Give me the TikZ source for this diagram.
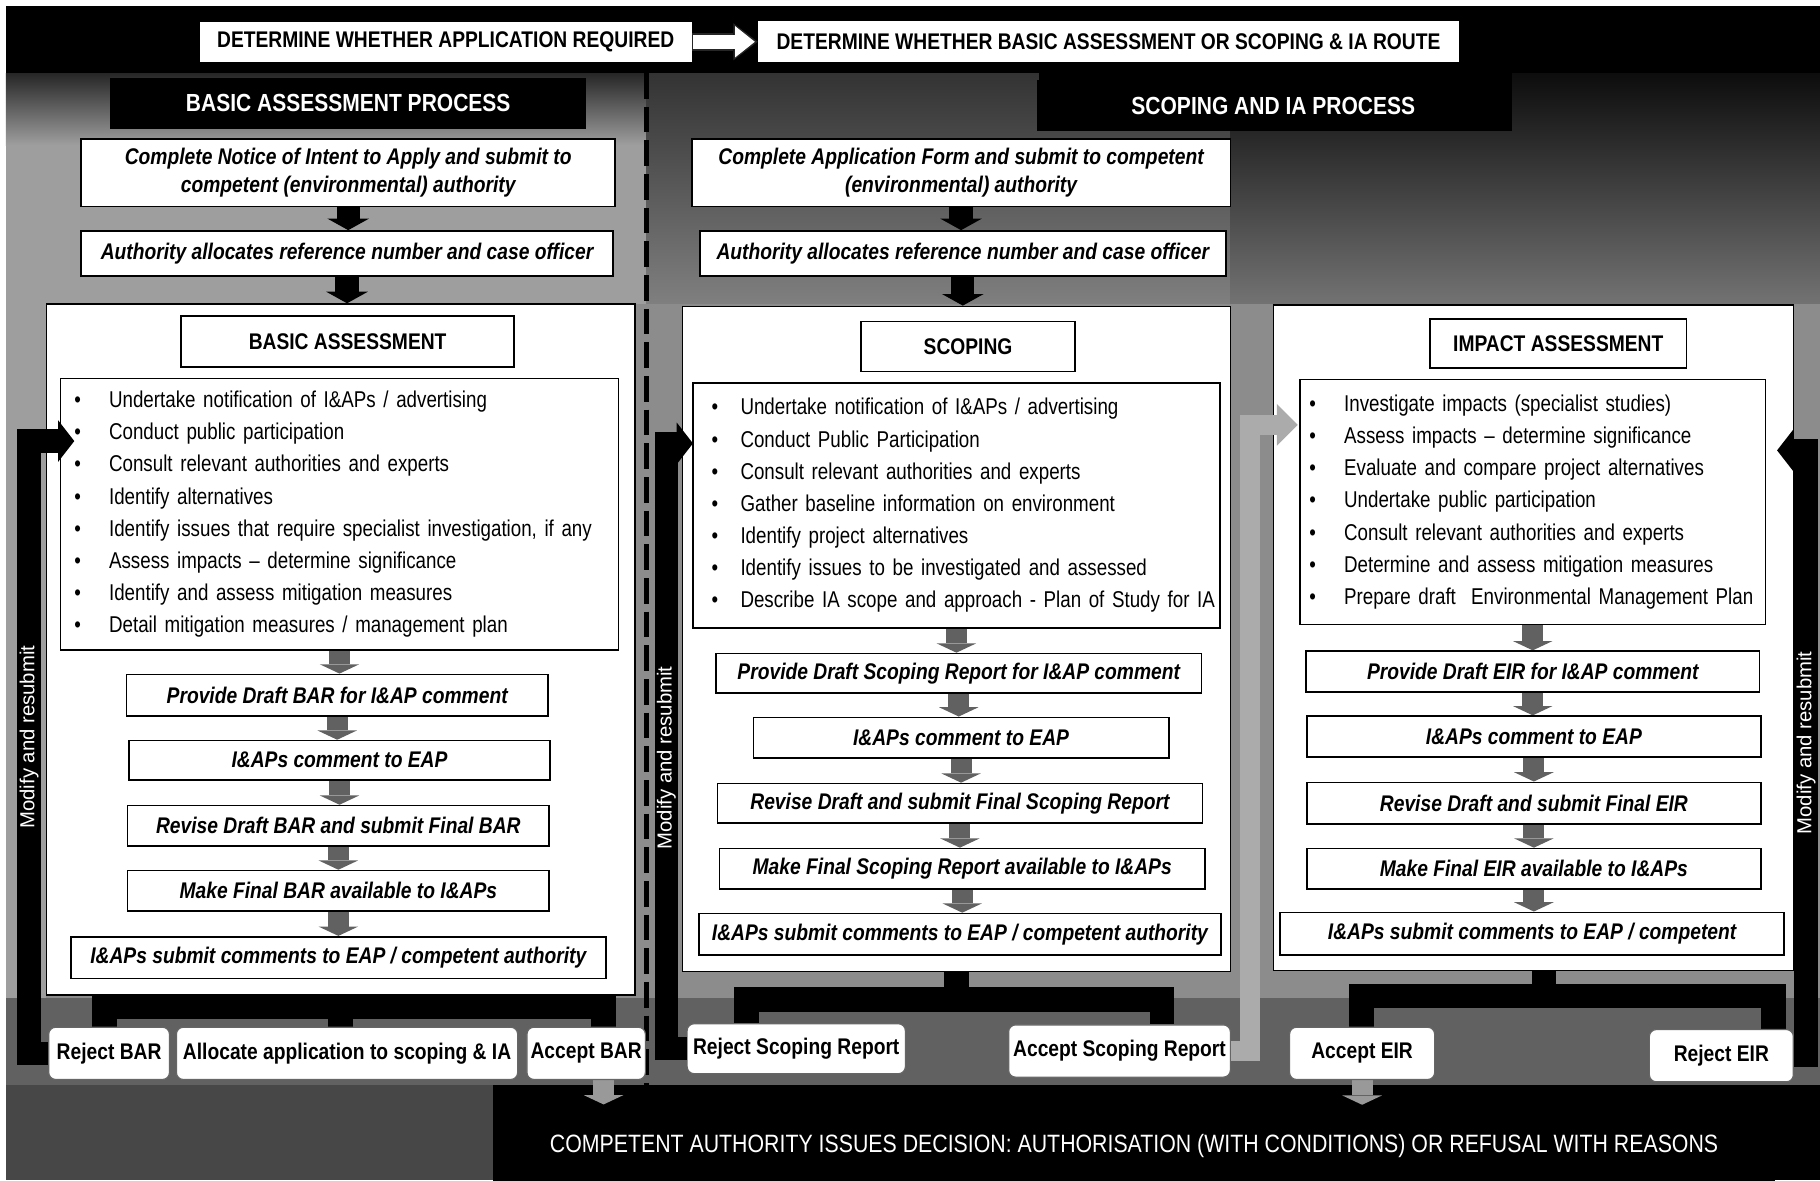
\documentclass[tikz,border=0pt]{standalone}
\usepackage{fontspec}
\setmainfont{Liberation Sans}
\newfontfamily\nar{Liberation Sans}[FakeStretch=0.85]
\newfontfamily\narb{Liberation Sans}[FakeStretch=0.82]
\usetikzlibrary{arrows.meta}
\pgfdeclarelayer{bg}\pgfdeclarelayer{cont}\pgfdeclarelayer{mid}
\pgfsetlayers{bg,cont,mid,main}
\newcommand{\bxfont}{\nar\bfseries\itshape\fontsize{19.5}{24}\selectfont}
\newcommand{\blfont}{\narb\fontsize{19.7}{27.7}\selectfont}
\newcommand{\hdfont}{\nar\bfseries\fontsize{19.5}{22}\selectfont}
\newcommand{\prfont}{\nar\bfseries\fontsize{21.3}{24}\selectfont}
\newcommand{\ttlfont}{\nar\bfseries\fontsize{19.5}{23}\selectfont}
\newcommand{\dcfont}{\nar\bfseries\fontsize{19.5}{23}\selectfont}
\newcommand{\modfont}{\fontsize{17.5}{20}\selectfont}
\newcommand{\decfont}{\nar\fontsize{21.6}{24}\selectfont}
\newcommand{\bi}[2]{\mbox{\makebox[#1pt][l]{\textbullet}#2}}
\begin{document}
\begin{tikzpicture}[x=1pt,y=-1pt,line join=miter,
  wbox/.style={draw=black,line width=1.4pt,fill=white,inner sep=0pt,align=center,font=\bxfont,text=black},
  hbox/.style={fill=white,inner sep=0pt,font=\hdfont},
  ttl/.style={draw=black,line width=1.4pt,fill=white,inner sep=0pt,font=\ttlfont},
  contbox/.style={draw=black,line width=1.4pt,fill=white,inner sep=0pt},
  blist/.style={draw=black,line width=1.4pt,fill=white,align=left,font=\blfont,inner ysep=0pt},
  dbox/.style={draw=black!60,line width=1pt,fill=white,rounded corners=6pt,inner sep=0pt,font=\dcfont},
  prhead/.style={fill=black,text=white,inner sep=0pt,font=\prfont},
  modlabel/.style={rotate=90,text=white,font=\modfont,inner sep=0pt},
  blk/.style={line width=20pt,black,-{Triangle[width=36pt,length=10pt,line width=0pt]}},
  gar/.style={line width=18pt,black!62,-{Triangle[width=34pt,length=8pt,line width=0pt]}},
  gar2/.style={line width=18pt,black!40,-{Triangle[width=34pt,length=8pt,line width=0pt]}},
  fork/.style={line width=21pt,black},
  modarr/.style={line width=20pt,black,-{Triangle[width=36pt,length=14pt,line width=0pt]}},
  greyarr/.style={line width=17pt,black!33,-{Triangle[width=36pt,length=18pt,line width=0pt]}}
]
\useasboundingbox (0,0) rectangle (1568,1017);
% ---------------- background ----------------
\begin{pgfonlayer}{bg}
\fill[white] (0,0) rectangle (1568,1017);
\fill[black!48] (5,5) rectangle (1568,1017);
\fill[black] (5,5) rectangle (1568,63);
\shade[top color=black!85,bottom color=black!38] (5,63) rectangle (557,125);
\fill[black!38] (5,125) rectangle (557,262);
\shade[top color=black!80,bottom color=black!50] (557,63) rectangle (1060,262);
\shade[top color=black!95,bottom color=black!55] (1060,63) rectangle (1568,262);
\fill[black!45] (5,262) rectangle (1568,860);
\fill[black!38] (5,262) rectangle (40,935);
\fill[black!62] (5,860) rectangle (1568,935);
\fill[black!72] (5,935) rectangle (425,1017);
\fill[black] (425,935) rectangle (1568,1017);
\fill[black] (895,63) rectangle (1303,113);
\draw[line width=3.5pt,dash pattern=on 22pt off 7pt] (557,63) -- (557,935);
\end{pgfonlayer}
% ---------------- top ----------------
\node[hbox,minimum width=424pt,minimum height=34pt] (det1) at (384,36) {DETERMINE WHETHER APPLICATION REQUIRED};
\node[hbox,minimum width=604pt,minimum height=35pt] (det2) at (955,36) {DETERMINE WHETHER BASIC ASSESSMENT OR SCOPING \& IA ROUTE};
\node[prhead,minimum width=410pt,minimum height=44pt] (bap) at (300,89) {BASIC ASSESSMENT PROCESS};
\node[prhead,minimum width=408pt,minimum height=44pt] (sip) at (1097,91) {SCOPING AND IA PROCESS};
% ---------------- containers ----------------
\begin{pgfonlayer}{cont}
\node[contbox,minimum width=507pt,minimum height=595pt] (contBA) at (293.5,559.5) {};
\node[contbox,minimum width=472pt,minimum height=573pt] (contSC) at (824,550.5) {};
\node[contbox,minimum width=448pt,minimum height=573pt] (contIA) at (1321,549.5) {};
\end{pgfonlayer}
% ---------------- basic assessment column ----------------
\node[wbox,minimum width=460pt,minimum height=58pt] (n1BA) at (300,149) {Complete Notice of Intent to Apply and submit to\\competent (environmental) authority};
\node[wbox,minimum width=458pt,minimum height=39pt] (n2BA) at (299,218.5) {Authority allocates reference number and case officer};
\node[ttl,minimum width=287pt,minimum height=44pt] (titleBA) at (299.5,294) {BASIC ASSESSMENT};
\node[blist,minimum width=481pt,minimum height=234pt,text width=457pt,inner xsep=12pt] (bullBA) at (292.5,443) {%
\bi{30}{Undertake notification of I\&APs / advertising}\\
\bi{30}{Conduct public participation}\\
\bi{30}{Consult relevant authorities and experts}\\
\bi{30}{Identify alternatives}\\
\bi{30}{Identify issues that require specialist investigation, if any}\\
\bi{30}{Assess impacts – determine significance}\\
\bi{30}{Identify and assess mitigation measures}\\
\bi{30}{Detail mitigation measures / management plan}};
\node[wbox,minimum width=363pt,minimum height=36pt] (pBA1) at (290.5,599) {Provide Draft BAR for I\&AP comment};
\node[wbox,minimum width=363pt,minimum height=34pt] (pBA2) at (292.5,655) {I\&APs comment to EAP};
\node[wbox,minimum width=363pt,minimum height=35pt] (pBA3) at (291.5,711.5) {Revise Draft BAR and submit Final BAR};
\node[wbox,minimum width=363pt,minimum height=35pt] (pBA4) at (291.5,767.5) {Make Final BAR available to I\&APs};
\node[wbox,minimum width=461pt,minimum height=36pt] (pBA5) at (291.5,825) {I\&APs submit comments to EAP / competent authority};
% ---------------- scoping column ----------------
\node[wbox,minimum width=464pt,minimum height=58pt] (n1SC) at (828,149) {Complete Application Form and submit to competent\\(environmental) authority};
\node[wbox,minimum width=453pt,minimum height=39pt] (n2SC) at (829.5,218.5) {Authority allocates reference number and case officer};
\node[ttl,minimum width=184pt,minimum height=43pt] (titleSC) at (834,298.5) {SCOPING};
\node[blist,minimum width=454pt,minimum height=211pt,text width=422pt,inner xsep=16pt] (bullSC) at (824,435.5) {%
\bi{25}{Undertake notification of I\&APs / advertising}\\
\bi{25}{Conduct Public Participation}\\
\bi{25}{Consult relevant authorities and experts}\\
\bi{25}{Gather baseline information on environment}\\
\bi{25}{Identify project alternatives}\\
\bi{25}{Identify issues to be investigated and assessed}\\
\bi{25}{Describe IA scope and approach - Plan of Study for IA}};
\node[wbox,minimum width=418pt,minimum height=34pt] (pSC1) at (826,580) {Provide Draft Scoping Report for I\&AP comment};
\node[wbox,minimum width=358pt,minimum height=35pt] (pSC2) at (828,635.5) {I\&APs comment to EAP};
\node[wbox,minimum width=418pt,minimum height=34pt] (pSC3) at (827,692) {Revise Draft and submit Final Scoping Report};
\node[wbox,minimum width=418pt,minimum height=35pt] (pSC4) at (829,748.5) {Make Final Scoping Report available to I\&APs};
\node[wbox,minimum width=450pt,minimum height=36pt] (pSC5) at (827,805) {I\&APs submit comments to EAP / competent authority};
% ---------------- impact assessment column ----------------
\node[ttl,minimum width=221pt,minimum height=42pt] (titleIA) at (1342.5,296) {IMPACT ASSESSMENT};
\node[blist,minimum width=401pt,minimum height=211pt,text width=385pt,inner xsep=8pt] (bullIA) at (1320.5,432.5) {%
\bi{30}{Investigate impacts (specialist studies)}\\
\bi{30}{Assess impacts – determine significance}\\
\bi{30}{Evaluate and compare project alternatives}\\
\bi{30}{Undertake public participation}\\
\bi{30}{Consult relevant authorities and experts}\\
\bi{30}{Determine and assess mitigation measures}\\
\bi{30}{Prepare draft\ \ Environmental Management Plan}};
\node[wbox,minimum width=391pt,minimum height=35pt] (pIA1) at (1320.5,578.5) {Provide Draft EIR for I\&AP comment};
\node[wbox,minimum width=391pt,minimum height=35pt] (pIA2) at (1321.5,634.5) {I\&APs comment to EAP};
\node[wbox,minimum width=391pt,minimum height=36pt] (pIA3) at (1321.5,692) {Revise Draft and submit Final EIR};
\node[wbox,minimum width=391pt,minimum height=35pt] (pIA4) at (1321.5,748.5) {Make Final EIR available to I\&APs};
\node[wbox,minimum width=434pt,minimum height=37pt] (pIA5) at (1320,804.5) {I\&APs submit comments to EAP / competent};
% ---------------- decision boxes ----------------
\node[dbox,minimum width=104pt,minimum height=45pt] (rejBAR) at (94,907.5) {Reject BAR};
\node[dbox,minimum width=294pt,minimum height=45pt] (alloc) at (299,907.5) {Allocate application to scoping \& IA};
\node[dbox,minimum width=102pt,minimum height=45pt] (accBAR) at (505,907.5) {Accept BAR};
\node[dbox,minimum width=188pt,minimum height=43pt] (rejSC) at (686,903.5) {Reject Scoping Report};
\node[dbox,minimum width=191pt,minimum height=45pt] (accSC) at (964.5,905.5) {Accept Scoping Report};
\node[dbox,minimum width=125pt,minimum height=45pt] (accEIR) at (1173.5,907.5) {Accept EIR};
\node[dbox,minimum width=124pt,minimum height=45pt] (rejEIR) at (1483,909.5) {Reject EIR};
\node[fill=black,text=white,inner sep=0pt,font=\decfont,minimum width=1104pt,minimum height=70pt] (dec) at (977,987) {COMPETENT AUTHORITY ISSUES DECISION: AUTHORISATION (WITH CONDITIONS) OR REFUSAL WITH REASONS};
% ---------------- connectors ----------------
\begin{pgfonlayer}{mid}
\draw[line width=16pt,black!85,-{Triangle[width=32pt,length=21pt,line width=0pt]}] (det1.east) -- (det2.west);
\draw[line width=12pt,white,-{Triangle[width=27pt,length=17pt,line width=0pt]}] ([xshift=1pt]det1.east) -- ([xshift=-2.5pt]det2.west);
\draw[blk] (n1BA.south) -- (n1BA.south |- n2BA.north);
\draw[blk] (n2BA.south) -- (n2BA.south |- contBA.north);
\draw[blk] (n1SC.south) -- (n1SC.south |- n2SC.north);
\draw[blk] (n2SC.south) -- (n2SC.south |- contSC.north);
\foreach \c in {BA,SC,IA}{
  \draw[gar] (bull\c.south) -- (bull\c.south |- p\c1.north);
  \draw[gar] (p\c1.south) -- (p\c1.south |- p\c2.north);
  \draw[gar] (p\c2.south) -- (p\c2.south |- p\c3.north);
  \draw[gar] (p\c3.south) -- (p\c3.south |- p\c4.north);
  \draw[gar] (p\c4.south) -- (p\c4.south |- p\c5.north);
}
% forks
\coordinate (fBAl) at (90,867); \coordinate (fBAr) at (520,867);
\draw[fork] (rejBAR.north -| fBAl) -- (fBAl) -- (fBAr) -- (accBAR.north -| fBAr);
\draw[fork] (contBA.south) -- (contBA.south |- alloc.north);
\coordinate (fSCl) at (643,861); \coordinate (fSCr) at (1001,861);
\draw[fork] (rejSC.north -| fSCl) -- (fSCl) -- (fSCr) -- (accSC.north -| fSCr);
\draw[fork] (contSC.south) -- (contSC.south |- fSCl);
\coordinate (fIAl) at (1173,858); \coordinate (fIAr) at (1528,858);
\draw[fork] (accEIR.north -| fIAl) -- (fIAl) -- (fIAr) -- (rejEIR.north -| fIAr);
\draw[fork] ([xshift=9pt]contIA.south) -- ([xshift=9pt]contIA.south |- fIAl);
% down to decision
\draw[gar2] ([xshift=15pt]accBAR.south) -- ++(0,21);
\draw[gar2] (accEIR.south) -- (accEIR.south |- dec.north);
\end{pgfonlayer}
% modify and resubmit loops (above boxes)
\coordinate (cornBA) at (25,380); \coordinate (tipBA) at (64,380);
\draw[modarr] (rejBAR.west) -| (cornBA) -- (tipBA);
\coordinate (cornSC) at (574,382); \coordinate (tipSC) at (597,382);
\draw[modarr] (rejSC.west) -| (cornSC) -- (tipSC);
\coordinate (cornIA) at (1556,388); \coordinate (tipIA) at (1531,388);
\draw[modarr] (rejEIR.east) -| (cornIA) -- (tipIA);
\coordinate (cornG) at (1077,366); \coordinate (tipG) at (1118,366);
\draw[greyarr] (accSC.east) -| (cornG) -- (tipG);
\node[modlabel] (modBA) at (25,635) {Modify and resubmit};
\node[modlabel] (modSC) at (574,653) {Modify and resubmit};
\node[modlabel] (modIA) at (1556,640) {Modify and resubmit};
\end{tikzpicture}
\end{document}
